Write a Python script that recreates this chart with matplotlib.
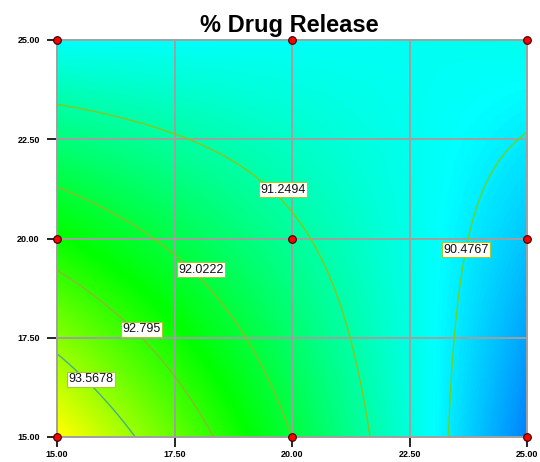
import numpy as np
import matplotlib
matplotlib.use("Agg")
import matplotlib.pyplot as plt
from matplotlib.colors import LinearSegmentedColormap, Normalize

# Factor settings of the 3x3 design
factor_a = [15.0, 20.0, 25.0]
factor_b = [15.0, 20.0, 25.0]

# Predicted % drug release at the design points (rows follow factor_b)
release = [
    [94.34, 92.02, 89.70],
    [92.50, 91.34, 90.19],
    [90.65, 90.66, 90.74],
]

contour_levels = [90.4767, 91.2494, 92.0222, 92.795, 93.5678]
label_xy = [(23.70, 19.72), (19.81, 21.23), (18.06, 19.21), (16.79, 17.71), (15.72, 16.46)]

tick_values = [15.0, 17.5, 20.0, 22.5, 25.0]
tick_labels = ["15.00", "17.50", "20.00", "22.50", "25.00"]

title_text = "% Drug Release"


def lagrange_basis(nodes, t):
    nodes = np.asarray(nodes, float)
    basis = []
    for k in range(len(nodes)):
        term = np.ones_like(t)
        for m in range(len(nodes)):
            if m != k:
                term = term * (t - nodes[m]) / (nodes[k] - nodes[m])
        basis.append(term)
    return np.array(basis)


# Quadratic response surface through the design-point predictions
xs = np.linspace(factor_a[0], factor_a[-1], 401)
ys = np.linspace(factor_b[0], factor_b[-1], 401)
La = lagrange_basis(factor_a, xs)
Lb = lagrange_basis(factor_b, ys)
Z = Lb.T @ np.asarray(release) @ La
X, Y = np.meshgrid(xs, ys)

cmap = LinearSegmentedColormap.from_list(
    "de_rainbow", ["#0000ff", "#00ffff", "#00ff00", "#ffff00", "#ff0000"])
norm = Normalize(vmin=88.75, vmax=96.15)

fig = plt.figure(figsize=(5.4, 4.62), dpi=100)
ax = fig.add_axes([57 / 540, 25 / 462, 470 / 540, 397 / 462])

ax.imshow(Z, extent=[xs[0], xs[-1], ys[0], ys[-1]], origin="lower",
          aspect="auto", cmap=cmap, norm=norm, interpolation="bilinear", zorder=0)

grid_gray = "#a0a0a0"
for v in tick_values[1:-1]:
    ax.axvline(v, color=grid_gray, lw=1.4, zorder=1)
    ax.axhline(v, color=grid_gray, lw=1.4, zorder=1)

line_colors = ["#6cd228", "#86c818", "#8cc020", "#88bb30", "#44b088"]
ax.contour(X, Y, Z, levels=contour_levels, colors=line_colors,
           linewidths=1.0, zorder=2)

for lvl, (lx, ly) in zip(contour_levels, label_xy):
    ax.text(lx, ly, f"{lvl:g}", ha="center", va="center", fontsize=9,
            family="Liberation Sans", color="#101010", zorder=4,
            bbox=dict(boxstyle="square,pad=0.12", facecolor="white",
                      edgecolor="#a8c830", linewidth=0.8))

# Design points
pa, pb = np.meshgrid(factor_a, factor_b)
ax.plot(pa.ravel(), pb.ravel(), linestyle="none", marker="o", markersize=5.5,
        markerfacecolor="#ff0000", markeredgecolor="#300000",
        markeredgewidth=0.8, clip_on=False, zorder=5)

ax.set_xlim(factor_a[0], factor_a[-1])
ax.set_ylim(factor_b[0], factor_b[-1])
ax.set_xticks(tick_values)
ax.set_yticks(tick_values)
ax.set_xticklabels(tick_labels)
ax.set_yticklabels(tick_labels)
ax.tick_params(axis="both", direction="out", length=7.5, width=1.2,
               color="black", labelsize=6.5)
ax.tick_params(axis="x", pad=2)
ax.tick_params(axis="y", pad=5)
for lab in ax.get_xticklabels() + ax.get_yticklabels():
    lab.set_fontweight("bold")
    lab.set_family("Liberation Sans")

for sp in ax.spines.values():
    sp.set_color(grid_gray)
    sp.set_linewidth(1.4)

fig.text(289 / 540, 1 - 32 / 462, title_text, ha="center", va="baseline",
         fontsize=17, fontweight="bold", family="Liberation Sans")

fig.savefig("out.png", dpi=100)
